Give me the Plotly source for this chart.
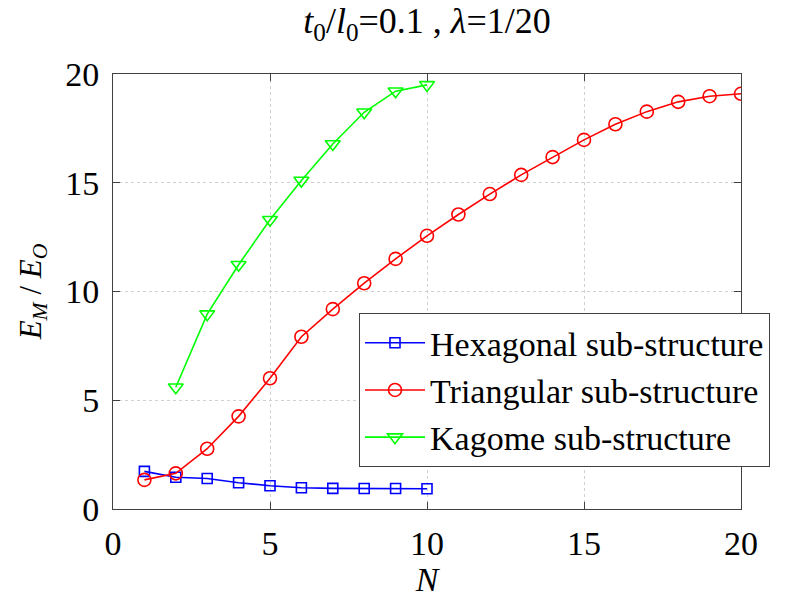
import plotly.graph_objects as go

# Number of sub-structure cells along the edge
n_hex = [1, 2, 3, 4, 5, 6, 7, 8, 9, 10]
n_tri = list(range(1, 21))
n_kag = [2, 3, 4, 5, 6, 7, 8, 9, 10]

# Normalised modulus E_M / E_O
e_hex = [1.73, 1.46, 1.40, 1.21, 1.07, 0.98, 0.95, 0.94, 0.94, 0.93]
e_tri = [1.34, 1.64, 2.77, 4.26, 6.01, 7.92, 9.19, 10.38, 11.50, 12.56,
         13.54, 14.48, 15.36, 16.18, 16.97, 17.69, 18.27, 18.72, 18.98, 19.09]
e_kag = [5.60, 8.96, 11.23, 13.30, 15.10, 16.78, 18.24, 19.21, 19.50]

ticks = [0, 5, 10, 15, 20]
FONT = "Times New Roman, Liberation Serif, DejaVu Serif, serif"

fig = go.Figure()
fig.add_trace(go.Scatter(
    x=n_hex, y=e_hex, mode="lines+markers", name="Hexagonal sub-structure",
    line=dict(color="#0000ff", width=1.6),
    marker=dict(symbol="square-open", size=10, color="#0000ff",
                line=dict(width=1.6, color="#0000ff")),
))
fig.add_trace(go.Scatter(
    x=n_tri, y=e_tri, mode="lines+markers", name="Triangular sub-structure",
    line=dict(color="#ff0000", width=1.6),
    marker=dict(symbol="circle-open", size=13, color="#ff0000",
                line=dict(width=1.6, color="#ff0000")),
))
fig.add_trace(go.Scatter(
    x=n_kag, y=e_kag, mode="lines+markers", name="Kagome sub-structure",
    line=dict(color="#00ff00", width=1.6),
    marker=dict(symbol="triangle-down-open", size=13, color="#00ff00",
                line=dict(width=1.6, color="#00ff00")),
))

axis_common = dict(
    range=[0, 20], tickvals=ticks, ticktext=[str(t) for t in ticks],
    showline=True, linecolor="#404040", linewidth=1, mirror="ticks",
    ticks="inside", ticklen=7, tickcolor="#404040",
    showgrid=True, gridcolor="#d0d0d0", griddash="dot", gridwidth=1,
    zeroline=False, tickfont=dict(family=FONT, size=34, color="black"),
)

fig.update_layout(
    width=786, height=598,
    margin=dict(l=113, r=45, t=74, b=77),
    paper_bgcolor="white", plot_bgcolor="white",
    font=dict(family=FONT, color="black"),
    title=dict(
        text="<i>t</i><sub>0</sub>/<i>l</i><sub>0</sub>=0.1 , <i>λ</i>=1/20",
        x=0.5, xref="paper", xanchor="center",
        y=1 - 8 / 598, yref="container", yanchor="top",
        font=dict(family=FONT, size=36, color="black"),
    ),
    xaxis=dict(**axis_common,
               title=dict(text="<i>N</i>", font=dict(family=FONT, size=34), standoff=0),
               ticklabelstandoff=4),
    yaxis=dict(**axis_common,
               title=dict(text="<i>E</i><sub><i>M</i></sub> / <i>E</i><sub><i>O</i></sub>",
                          font=dict(family=FONT, size=31), standoff=14),
               ticklabelstandoff=6),
    legend=dict(
        x=(359 - 113) / 628, y=(521.5 - 320) / 447.5,
        xanchor="left", yanchor="top",
        bgcolor="white", bordercolor="#404040", borderwidth=1,
        font=dict(family=FONT, size=34, color="black"),
        itemwidth=60,
        tracegroupgap=0,
    ),
    showlegend=True,
)

fig.write_html("out.html")
